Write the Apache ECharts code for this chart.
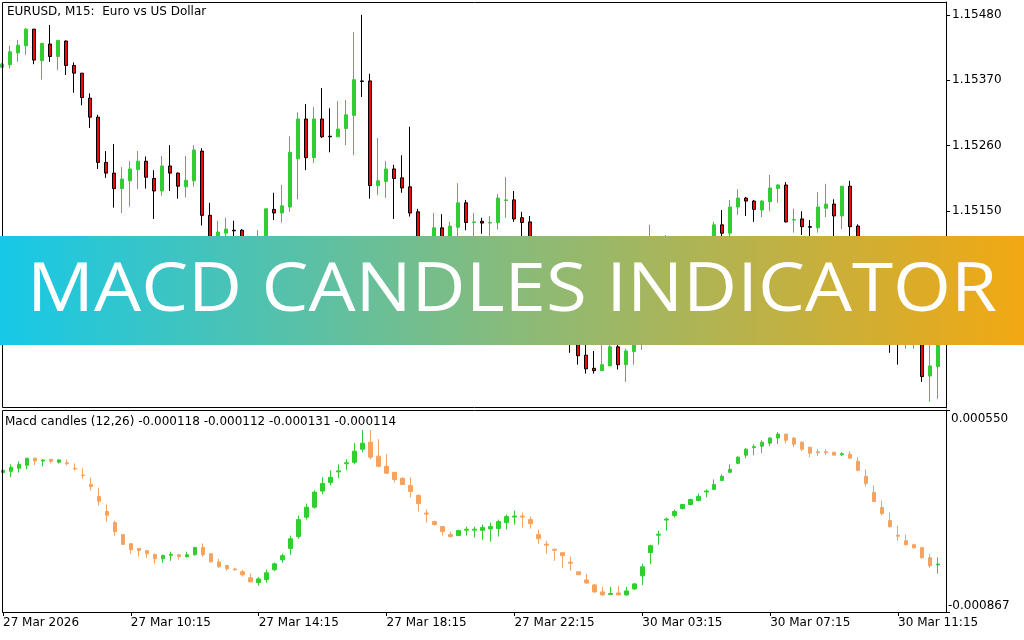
<!DOCTYPE html>
<html><head><meta charset="utf-8">
<script src="https://cdn.jsdelivr.net/npm/echarts@6/dist/echarts.min.js"></script>
<style>html,body{margin:0;padding:0;background:#fff}#c{width:1024px;height:640px}</style>
</head><body><div id="c"></div>
<script>
const symbolTitle = 'EURUSD, M15:  Euro vs US Dollar';
const macdTitle = 'Macd candles (12,26) -0.000118 -0.000112 -0.000131 -0.000114';
const bannerText = 'MACD CANDLES INDICATOR';
const timeTickLabels = ['27 Mar 2026','27 Mar 10:15','27 Mar 14:15','27 Mar 18:15','27 Mar 22:15','30 Mar 03:15','30 Mar 07:15','30 Mar 11:15'];
const priceTicks = [1.14930,1.15040,1.15150,1.15260,1.15370,1.15480];
const macdTopTick = [0.000550];
const macdBottomTick = [-0.000867];

const priceOpen = [1.15392,1.15396,1.15416,1.15428,1.15456,1.15403,1.15431,1.15410,1.15436,1.15395,
1.15382,1.15340,1.15308,1.15232,1.15214,1.15188,1.15201,1.15220,1.15234,1.15205,
1.15184,1.15226,1.15214,1.15191,1.15201,1.15251,1.15143,1.15093,1.15113,1.15118,
1.15118,1.15076,1.15060,1.15088,1.15153,1.15147,1.15157,1.15238,1.15305,1.15240,
1.15305,1.15276,1.15275,1.15289,1.15311,1.15369,1.15369,1.15193,1.15200,1.15221,
1.15206,1.15191,1.15149,1.15085,1.15071,1.15122,1.15095,1.15123,1.15164,1.15131,
1.15133,1.15130,1.15131,1.15168,1.15169,1.15139,1.15132,1.15076,1.15043,1.15018,
1.15031,1.14984,1.14942,1.14908,1.14886,1.14882,1.14890,1.14922,1.14892,1.14914,
1.14950,1.15001,1.15068,1.15055,1.15093,1.15081,1.15093,1.15105,1.15095,1.15102,
1.15127,1.15113,1.15157,1.15172,1.15167,1.15152,1.15166,1.15188,1.15194,1.15135,
1.15137,1.15124,1.15122,1.15155,1.15162,1.15142,1.15192,1.15125,1.15085,1.15043,
1.15001,1.14975,1.14942,1.14937,1.14933,1.14947,1.14873,1.14889];
const priceClose = [1.15397,1.15418,1.15429,1.15456,1.15404,1.15432,1.15410,1.15437,1.15395,1.15382,
1.15341,1.15308,1.15232,1.15214,1.15188,1.15204,1.15221,1.15234,1.15207,1.15184,
1.15226,1.15214,1.15192,1.15202,1.15253,1.15143,1.15085,1.15115,1.15120,1.15117,
1.15076,1.15065,1.15088,1.15154,1.15147,1.15159,1.15249,1.15305,1.15240,1.15305,
1.15275,1.15275,1.15288,1.15312,1.15371,1.15368,1.15193,1.15201,1.15221,1.15205,
1.15189,1.15147,1.15085,1.15071,1.15122,1.15093,1.15125,1.15164,1.15131,1.15132,
1.15130,1.15131,1.15172,1.15169,1.15137,1.15131,1.15076,1.15043,1.15018,1.15031,
1.14984,1.14942,1.14907,1.14885,1.14882,1.14892,1.14922,1.14892,1.14915,1.14950,
1.15001,1.15068,1.15055,1.15093,1.15081,1.15102,1.15105,1.15095,1.15105,1.15127,
1.15113,1.15157,1.15172,1.15167,1.15153,1.15167,1.15189,1.15194,1.15132,1.15136,
1.15124,1.15123,1.15157,1.15162,1.15142,1.15192,1.15124,1.15085,1.15043,1.15001,
1.14975,1.14942,1.14937,1.14950,1.14947,1.14872,1.14890,1.14937];
const priceLow = [1.15391,1.15390,1.15401,1.15413,1.15397,1.15371,1.15401,1.15387,1.15379,1.15349,
1.15328,1.15290,1.15221,1.15206,1.15156,1.15147,1.15158,1.15187,1.15188,1.15137,
1.15176,1.15184,1.15171,1.15173,1.15191,1.15126,1.15068,1.15076,1.15102,1.15093,
1.15065,1.15051,1.15048,1.15081,1.15135,1.15131,1.15149,1.15170,1.15219,1.15231,
1.15273,1.15249,1.15275,1.15261,1.15244,1.15342,1.15171,1.15177,1.15172,1.15137,
1.15181,1.15141,1.15071,1.15058,1.15061,1.15081,1.15085,1.15093,1.15118,1.15093,
1.15112,1.15085,1.15119,1.15139,1.15132,1.15093,1.15065,1.15034,1.15004,1.15007,
1.14970,1.14912,1.14892,1.14877,1.14877,1.14882,1.14890,1.14884,1.14863,1.14892,
1.14917,1.14992,1.15043,1.15048,1.15071,1.15075,1.15085,1.15088,1.15091,1.15093,
1.15102,1.15102,1.15144,1.15142,1.15132,1.15140,1.15150,1.15164,1.15131,1.15114,
1.15110,1.15093,1.15114,1.15140,1.15085,1.15120,1.15088,1.15065,1.15031,1.14984,
1.14959,1.14912,1.14892,1.14919,1.14919,1.14863,1.14830,1.14835];
const priceHigh = [1.15399,1.15428,1.15438,1.15458,1.15456,1.15433,1.15463,1.15438,1.15437,1.15400,
1.15382,1.15348,1.15312,1.15251,1.15263,1.15224,1.15234,1.15251,1.15242,1.15219,
1.15243,1.15261,1.15215,1.15243,1.15261,1.15256,1.15164,1.15134,1.15139,1.15134,
1.15120,1.15102,1.15118,1.15154,1.15181,1.15194,1.15276,1.15316,1.15330,1.15325,
1.15357,1.15323,1.15335,1.15337,1.15451,1.15480,1.15381,1.15273,1.15234,1.15228,
1.15244,1.15292,1.15154,1.15102,1.15147,1.15145,1.15132,1.15197,1.15169,1.15147,
1.15139,1.15142,1.15179,1.15207,1.15184,1.15149,1.15142,1.15085,1.15055,1.15041,
1.15034,1.14992,1.14950,1.14930,1.14915,1.14933,1.14937,1.14928,1.14919,1.14959,
1.15018,1.15127,1.15088,1.15110,1.15102,1.15107,1.15108,1.15108,1.15107,1.15132,
1.15152,1.15169,1.15187,1.15174,1.15169,1.15169,1.15211,1.15196,1.15199,1.15154,
1.15150,1.15135,1.15182,1.15196,1.15170,1.15192,1.15201,1.15128,1.15093,1.15055,
1.15018,1.14984,1.14959,1.14967,1.14959,1.14954,1.14933,1.14950];

const macdOpen = [111e-6,120e-6,141e-6,162e-6,212e-6,192e-6,204e-6,183e-6,180e-6,141e-6,
94e-6,28e-6,-56e-6,-162e-6,-240e-6,-324e-6,-388e-6,-421e-6,-437e-6,-463e-6,
-494e-6,-469e-6,-465e-6,-479e-6,-465e-6,-414e-6,-458e-6,-515e-6,-541e-6,-566e-6,
-585e-6,-627e-6,-661e-6,-639e-6,-571e-6,-501e-6,-421e-6,-338e-6,-202e-6,-132e-6,
-19e-6,42e-6,116e-6,173e-6,183e-6,275e-6,324e-6,226e-6,155e-6,113e-6,
71e-6,21e-6,-49e-6,-173e-6,-233e-6,-268e-6,-324e-6,-331e-6,-293e-6,-293e-6,
-294e-6,-284e-6,-282e-6,-240e-6,-201e-6,-194e-6,-219e-6,-324e-6,-391e-6,-427e-6,
-451e-6,-518e-6,-585e-6,-642e-6,-677e-6,-726e-6,-744e-6,-733e-6,-747e-6,-705e-6,
-613e-6,-451e-6,-328e-6,-222e-6,-190e-6,-141e-6,-113e-6,-85e-6,-25e-6,-7e-6,
56e-6,113e-6,176e-6,233e-6,286e-6,296e-6,317e-6,353e-6,381e-6,353e-6,
324e-6,289e-6,257e-6,257e-6,254e-6,236e-6,240e-6,190e-6,85e-6,-28e-6,
-134e-6,-226e-6,-328e-6,-367e-6,-395e-6,-416e-6,-486e-6,-537e-6];
const macdClose = [127e-6,148e-6,169e-6,212e-6,192e-6,199e-6,190e-6,200e-6,173e-6,136e-6,
90e-6,12e-6,-90e-6,-188e-6,-303e-6,-393e-6,-430e-6,-437e-6,-458e-6,-494e-6,
-470e-6,-462e-6,-479e-6,-465e-6,-414e-6,-465e-6,-515e-6,-550e-6,-564e-6,-571e-6,
-606e-6,-656e-6,-635e-6,-592e-6,-529e-6,-472e-6,-353e-6,-219e-6,-132e-6,-26e-6,
35e-6,78e-6,123e-6,180e-6,261e-6,317e-6,219e-6,155e-6,106e-6,63e-6,
28e-6,-21e-6,-106e-6,-180e-6,-254e-6,-303e-6,-338e-6,-296e-6,-286e-6,-286e-6,
-275e-6,-268e-6,-233e-6,-197e-6,-194e-6,-201e-6,-247e-6,-353e-6,-398e-6,-434e-6,
-472e-6,-525e-6,-606e-6,-663e-6,-726e-6,-747e-6,-737e-6,-747e-6,-719e-6,-670e-6,
-550e-6,-402e-6,-321e-6,-215e-6,-162e-6,-113e-6,-78e-6,-56e-6,-18e-6,28e-6,
85e-6,134e-6,219e-6,275e-6,293e-6,324e-6,353e-6,381e-6,338e-6,310e-6,
275e-6,247e-6,250e-6,250e-6,233e-6,243e-6,212e-6,127e-6,35e-6,-92e-6,
-176e-6,-268e-6,-335e-6,-395e-6,-416e-6,-486e-6,-543e-6,-530e-6];
const macdLow = [106e-6,80e-6,111e-6,134e-6,164e-6,155e-6,176e-6,174e-6,162e-6,127e-6,
68e-6,-14e-6,-120e-6,-233e-6,-331e-6,-393e-6,-458e-6,-479e-6,-486e-6,-529e-6,
-522e-6,-508e-6,-501e-6,-486e-6,-472e-6,-479e-6,-522e-6,-557e-6,-578e-6,-578e-6,
-618e-6,-656e-6,-682e-6,-661e-6,-580e-6,-522e-6,-465e-6,-353e-6,-219e-6,-141e-6,
-40e-6,21e-6,71e-6,127e-6,169e-6,254e-6,204e-6,148e-6,106e-6,42e-6,
28e-6,-63e-6,-162e-6,-240e-6,-261e-6,-331e-6,-345e-6,-331e-6,-331e-6,-345e-6,
-360e-6,-374e-6,-338e-6,-289e-6,-254e-6,-275e-6,-282e-6,-388e-6,-458e-6,-508e-6,
-557e-6,-578e-6,-606e-6,-670e-6,-733e-6,-754e-6,-747e-6,-747e-6,-754e-6,-712e-6,
-677e-6,-529e-6,-395e-6,-296e-6,-204e-6,-148e-6,-120e-6,-92e-6,-63e-6,-7e-6,
56e-6,106e-6,169e-6,212e-6,233e-6,247e-6,296e-6,310e-6,317e-6,289e-6,
261e-6,219e-6,226e-6,233e-6,233e-6,226e-6,212e-6,120e-6,14e-6,-92e-6,
-190e-6,-275e-6,-367e-6,-402e-6,-423e-6,-494e-6,-557e-6,-599e-6];
const macdHigh = [134e-6,169e-6,190e-6,212e-6,212e-6,204e-6,204e-6,204e-6,204e-6,176e-6,
141e-6,75e-6,5e-6,-113e-6,-226e-6,-324e-6,-388e-6,-421e-6,-430e-6,-458e-6,
-465e-6,-444e-6,-465e-6,-444e-6,-414e-6,-386e-6,-458e-6,-494e-6,-541e-6,-557e-6,
-571e-6,-597e-6,-623e-6,-571e-6,-520e-6,-458e-6,-331e-6,-190e-6,-106e-6,-14e-6,
78e-6,127e-6,169e-6,204e-6,317e-6,409e-6,409e-6,345e-6,240e-6,113e-6,
78e-6,78e-6,-42e-6,-148e-6,-226e-6,-268e-6,-303e-6,-289e-6,-268e-6,-268e-6,
-254e-6,-240e-6,-219e-6,-183e-6,-155e-6,-169e-6,-197e-6,-289e-6,-367e-6,-423e-6,
-451e-6,-479e-6,-585e-6,-599e-6,-670e-6,-691e-6,-691e-6,-684e-6,-691e-6,-663e-6,
-529e-6,-395e-6,-296e-6,-204e-6,-148e-6,-113e-6,-71e-6,-35e-6,-7e-6,63e-6,
99e-6,169e-6,226e-6,282e-6,310e-6,338e-6,360e-6,395e-6,381e-6,360e-6,
331e-6,289e-6,275e-6,275e-6,254e-6,254e-6,261e-6,219e-6,134e-6,21e-6,
-85e-6,-169e-6,-261e-6,-324e-6,-388e-6,-409e-6,-458e-6,-484e-6];

// M15 bar times (Friday 27 Mar from 06:15, Monday 30 Mar from 01:00), one spare slot at the end
const barTimes = [];
for (let i = 0; i < 119; i++) {
  const day = i <= 70 ? '27 Mar' : '30 Mar';
  const m = i <= 70 ? 375 + 15 * i : 60 + 15 * (i - 71);
  barTimes.push(day + ' ' + String(Math.floor(m / 60)).padStart(2, '0') + ':' + String(m % 60).padStart(2, '0'));
}

const priceData = priceOpen.map((o, i) => [o, priceClose[i], priceLow[i], priceHigh[i]]);
const macdData = macdOpen.map((o, i) => [o, macdClose[i], macdLow[i], macdHigh[i]]);

const FONT = 'DejaVu Sans';
const BANNER_FS = 67;
const ctx = document.createElement('canvas').getContext('2d');
ctx.font = '500 ' + BANNER_FS + 'px "Open Sans"';
const bannerScaleX = 970 / ctx.measureText(bannerText).width;

const chart = echarts.init(document.getElementById('c'), null, {renderer: 'canvas'});
const axisText = {color: '#000', fontFamily: FONT, fontSize: 12};
chart.setOption({
  animation: false,
  backgroundColor: '#fff',
  title: [
    {text: symbolTitle, left: 7, top: 6, padding: 0, textStyle: {color: '#000', fontFamily: FONT, fontSize: 12, fontWeight: 'normal'}},
    {text: macdTitle, left: 5, top: 416, padding: 0, textStyle: {color: '#000', fontFamily: FONT, fontSize: 12, fontWeight: 'normal'}}
  ],
  grid: [
    {left: 2, right: 78, top: 2, height: 406, show: false},
    {left: 2, right: 78, top: 410, height: 202, show: false}
  ],
  xAxis: [
    {type: 'category', gridIndex: 0, data: barTimes, boundaryGap: false, show: false},
    {type: 'category', gridIndex: 1, data: barTimes, boundaryGap: false,
     axisLine: {show: true, onZero: false, lineStyle: {color: '#000'}},
     axisTick: {show: true, interval: (i) => i % 16 === 0, length: 4, lineStyle: {color: '#000'}},
     axisLabel: Object.assign({interval: (i) => i % 16 === 0, align: 'left', margin: 5,
       formatter: (v, i) => (i % 16 === 0 && timeTickLabels[i / 16]) ? timeTickLabels[i / 16] : ''}, axisText),
     splitLine: {show: false}}
  ],
  yAxis: [
    {type: 'value', gridIndex: 0, position: 'right', min: 1.148192, max: 1.155016,
     axisLine: {show: true, lineStyle: {color: '#000'}},
     axisTick: {show: true, customValues: priceTicks, length: 4, lineStyle: {color: '#000'}},
     axisLabel: Object.assign({customValues: priceTicks, margin: 6, formatter: (v) => v.toFixed(5)}, axisText),
     splitLine: {show: false}},
    {type: 'value', gridIndex: 1, position: 'right', min: -0.000867, max: 0.000550,
     axisLine: {show: true, lineStyle: {color: '#000'}},
     axisTick: {show: true, customValues: macdTopTick, length: 4, lineStyle: {color: '#000'}},
     axisLabel: Object.assign({customValues: macdTopTick, margin: 5, verticalAlign: 'top', padding: [3, 0, 0, 0], formatter: (v) => v.toFixed(6)}, axisText),
     splitLine: {show: false}},
    {type: 'value', gridIndex: 1, position: 'right', min: -0.000867, max: 0.000550,
     axisLine: {show: false},
     axisTick: {show: true, customValues: macdBottomTick, length: 4, lineStyle: {color: '#000'}},
     axisLabel: Object.assign({customValues: macdBottomTick, margin: 2, verticalAlign: 'bottom', formatter: (v) => v.toFixed(6)}, axisText),
     splitLine: {show: false}}
  ],
  series: [
    {type: 'candlestick', xAxisIndex: 0, yAxisIndex: 0, data: priceData, barWidth: 4, clip: true,
     itemStyle: {color: '#32CD32', color0: '#FF0000', borderColor: '#32CD32', borderColor0: '#000000', borderWidth: 1}},
    {type: 'candlestick', xAxisIndex: 1, yAxisIndex: 1, data: macdData, barWidth: 4, clip: true,
     itemStyle: {color: '#32CD32', color0: '#F4A460', borderColor: '#32CD32', borderColor0: '#F4A460', borderWidth: 1}}
  ],
  graphic: [
    {type: 'rect', z: 50, silent: true, shape: {x: 2.5, y: 2.5, width: 944, height: 405},
     style: {fill: null, stroke: '#000', lineWidth: 1}},
    {type: 'rect', z: 50, silent: true, shape: {x: 2.5, y: 410.5, width: 944, height: 202},
     style: {fill: null, stroke: '#000', lineWidth: 1}},
    {type: 'rect', z: 100, shape: {x: 0, y: 236, width: 1024, height: 109},
     style: {fill: new echarts.graphic.LinearGradient(0, 0, 1, 0, [
       {offset: 0, color: '#16C9E8'}, {offset: 0.5, color: '#88BB7A'}, {offset: 1, color: '#F2A812'}])}},
    {type: 'text', z: 101, x: 512, y: 292, scaleX: bannerScaleX, scaleY: 1,
     style: {text: bannerText, fill: '#ffffff', font: '500 ' + BANNER_FS + 'px "Open Sans"', align: 'center', verticalAlign: 'middle'}}
  ]
});
</script>
</body></html>
